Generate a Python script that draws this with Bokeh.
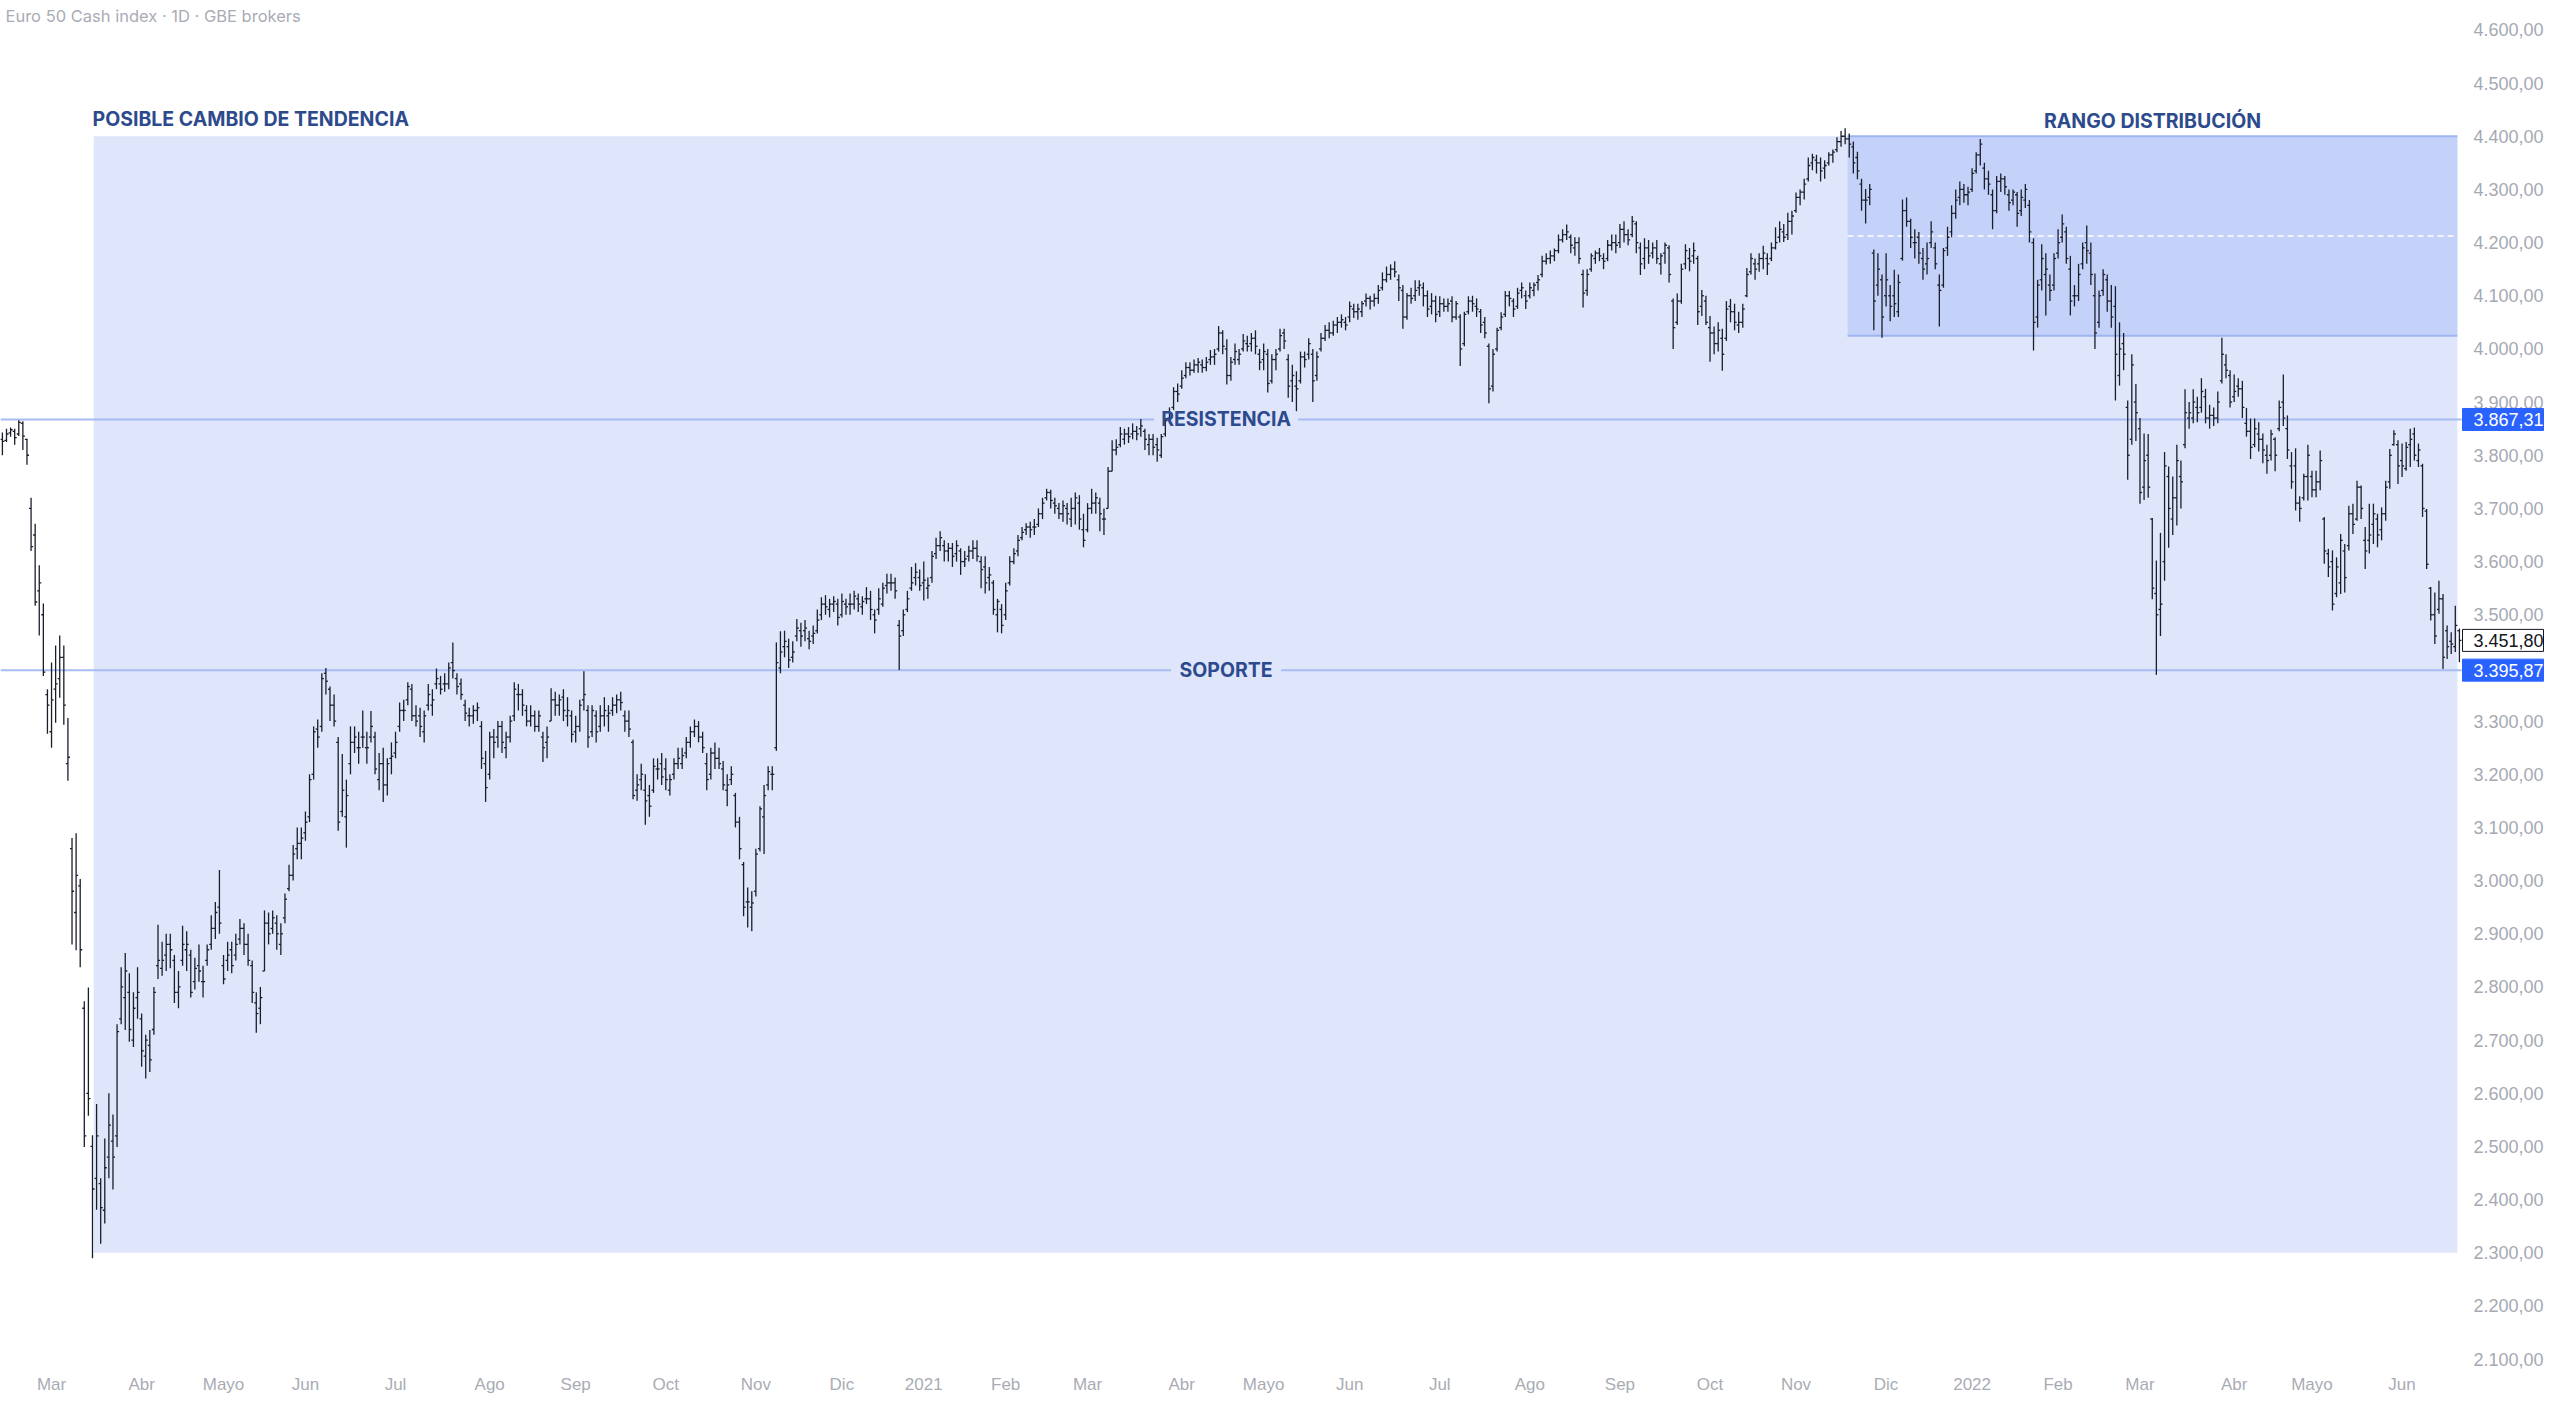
import numpy as np
import pandas as pd
from bokeh.plotting import figure
from bokeh.models import Range1d, FixedTicker, Label, BoxAnnotation
from bokeh.core.properties import value
from bokeh.embed import file_html
from bokeh.resources import INLINE

# ---------------- data (daily OHLC, Feb 13 2020 .. Jun 21 2022) ----------------
opens = [
    3830,3828,3842,3845,3840,3860,3830,3700,3650,3545,3500,3350,
    3280,3360,3380,3420,3220,3060,2940,2990,2760,2600,2500,2440,2430,2380,2480,2510,2520,2740,2780,2790,2700,2780,
    2740,2670,2690,2720,2840,2835,2860,2880,2850,2790,2850,2870,2860,2810,2840,2810,2850,2880,2910,2950,
    2840,2850,2870,2860,2890,2910,2880,2840,2770,2760,2830,2920,2910,2920,2880,2930,2985,3010,3060,3070,
    3090,3120,3200,3285,3290,3390,3360,3330,3260,3130,3120,3220,3260,3250,3270,3250,3270,3270,3190,3220,3180,3230,
    3240,3290,3320,3340,3360,3310,3310,3280,3330,3330,3370,3370,3370,3370,3410,3380,3370,3330,3310,3310,3320,3290,3220,
    3200,3270,3270,3290,3250,3270,3310,3350,3350,3320,3300,3310,3290,3270,3260,3300,3340,3330,3345,3310,3310,
    3280,3290,3340,3320,3280,3310,3290,3310,3310,3320,3330,3340,3310,3300,3260,3170,3190,3170,3160,3170,3210,3220,
    3210,3170,3200,3220,3220,3240,3260,3280,3290,3270,3220,3200,3240,3230,3210,3170,3190,3160,3110,3030,2960,2950,
    2980,3060,3120,3180,3200,3250,3400,3440,3440,3420,3460,3470,3470,3455,3460,3470,3500,3520,3510,3520,3520,
    3500,3520,3520,3520,3530,3515,3530,3530,3500,3510,3520,3555,3560,3560,3480,3470,3510,3550,3570,3570,
    3560,3550,3570,3615,3630,3630,3620,3625,3615,3620,3600,3610,3620,3625,3600,3590,3570,3560,3500,3510,
    3500,3560,3600,3620,3645,3660,3665,3665,3670,3690,3720,3730,3710,3700,3690,3700,3680,3700,3710,3660,
    3660,3700,3710,3710,3680,3700,3770,3810,3820,3830,3840,3840,3845,3850,3845,3820,3830,3820,3800,3840,3870,3890,3920,
    3930,3950,3965,3960,3970,3970,3965,3980,3985,4000,4030,4000,3950,3980,3980,4000,4010,4010,4020,3990,
    3980,3990,3940,3980,4000,4030,3980,3940,3930,3940,3985,3990,3990,3950,4000,4020,4035,4030,4045,4050,4050,
    4060,4075,4070,4070,4090,4095,4090,4095,4115,4130,4140,4150,4130,4110,4060,4100,4100,4115,4115,4100,4080,4090,
    4070,4085,4080,4090,4060,4060,4010,4070,4090,4080,4070,4050,4005,3930,4000,4040,4065,4100,4090,4080,4110,4100,
    4100,4110,4125,4140,4165,4170,4175,4185,4205,4215,4210,4190,4200,4140,4110,4150,4170,4180,4170,4170,4195,4200,
    4200,4225,4215,4215,4235,4190,4170,4190,4180,4190,4160,4180,4190,4090,4050,4090,4160,4170,4175,4170,4080,4090,
    4040,4030,4010,4020,4020,4080,4070,4045,4050,4100,4145,4160,4160,4170,4170,4170,4190,4210,4220,4215,4240,
    4260,4285,4295,4320,4350,4355,4350,4340,4350,4365,4375,4390,4400,4395,4380,4360,4310,4280,4285,4180,4120,4130,
    4100,4100,4100,4070,4170,4260,4240,4200,4210,4170,4160,4200,4190,4120,4120,4190,4220,4255,4285,4300,4290,
    4300,4335,4365,4340,4320,4290,4260,4315,4320,4290,4280,4290,4260,4280,4270,4200,4060,4130,4140,4120,4120,
    4180,4210,4220,4150,4100,4100,4160,4200,4180,4100,4050,4110,4130,4090,4080,3950,4010,3890,3830,3900,
    3850,3740,3800,3680,3540,3510,3600,3760,3680,3720,3760,3820,3870,3870,3890,3890,3910,3870,3875,3870,3940,3970,3950,
    3910,3930,3925,3860,3845,3820,3840,3830,3800,3800,3830,3850,3900,3850,3780,3780,3710,3720,3760,
    3760,3735,3750,3680,3615,3600,3540,3560,3620,3630,3690,3680,3740,3640,3640,3670,3680,3660,3690,3750,3820,3820,
    3790,3775,3820,3840,3790,3780,3695,3550,3500,3510,3530,3470,3450,3440,3470,
]
highs = [
    3843,3850,3852,3850,3866,3864,3831,3720,3671,3593,3521,3360,
    3410,3442,3461,3442,3306,3080,3089,3003,2773,2799,2521,2580,2440,2515,2600,2560,2730,2837,2864,2826,2790,2837,
    2750,2710,2719,2800,2917,2885,2900,2900,2860,2830,2915,2905,2870,2855,2880,2840,2880,2935,2960,3020,
    2860,2885,2885,2900,2928,2920,2900,2850,2790,2800,2944,2940,2944,2935,2920,2976,3030,3067,3100,3100,
    3130,3200,3290,3303,3390,3400,3365,3350,3270,3238,3190,3290,3290,3280,3320,3280,3319,3280,3240,3250,3230,3260,
    3280,3335,3340,3373,3370,3330,3325,3320,3370,3360,3399,3385,3390,3410,3448,3390,3380,3340,3325,3330,3335,3300,3244,
    3280,3285,3300,3300,3280,3310,3373,3370,3360,3330,3330,3320,3320,3280,3290,3362,3355,3350,3360,3345,3320,
    3310,3340,3394,3330,3330,3320,3330,3345,3330,3345,3350,3355,3320,3320,3265,3200,3220,3200,3180,3230,3230,3240,
    3230,3200,3230,3250,3250,3270,3290,3303,3300,3280,3240,3250,3260,3250,3225,3200,3215,3165,3120,3035,2987,2980,
    3060,3140,3180,3215,3215,3448,3469,3470,3455,3450,3492,3485,3490,3470,3480,3510,3533,3537,3530,3535,3530,
    3540,3530,3540,3545,3540,3535,3552,3545,3510,3550,3560,3577,3577,3570,3490,3510,3545,3590,3597,3585,
    3600,3570,3620,3645,3657,3640,3635,3635,3640,3625,3620,3630,3640,3640,3610,3610,3590,3565,3530,3520,
    3560,3610,3625,3650,3665,3672,3675,3680,3700,3720,3737,3735,3720,3710,3715,3710,3720,3730,3725,3690,
    3710,3737,3730,3720,3700,3778,3828,3830,3853,3850,3853,3860,3855,3868,3850,3840,3840,3833,3840,3870,3890,3928,3935,
    3960,3975,3975,3980,3983,3980,3985,3998,4000,4043,4035,4018,3985,4010,4000,4028,4025,4030,4035,4000,
    4010,4000,3990,4000,4038,4038,3990,3970,3958,3995,3995,4020,4000,3995,4030,4045,4050,4053,4060,4065,4060,
    4089,4085,4085,4090,4104,4100,4104,4120,4144,4155,4159,4165,4140,4120,4105,4115,4129,4129,4125,4110,4105,4100,
    4099,4095,4095,4099,4090,4065,4070,4099,4100,4095,4075,4060,4010,4000,4040,4069,4109,4109,4095,4115,4125,4110,
    4125,4125,4139,4175,4180,4185,4189,4215,4225,4234,4215,4210,4210,4149,4150,4180,4185,4190,4180,4205,4215,4215,
    4235,4240,4225,4250,4240,4200,4208,4205,4200,4205,4180,4200,4195,4095,4104,4160,4197,4190,4200,4175,4111,4100,
    4062,4042,4050,4038,4090,4094,4085,4070,4085,4152,4180,4170,4180,4194,4180,4200,4229,4240,4235,4256,4260,
    4294,4300,4320,4360,4367,4365,4360,4355,4370,4375,4398,4410,4415,4405,4390,4371,4320,4301,4310,4187,4180,4140,
    4180,4120,4149,4140,4281,4285,4245,4225,4220,4190,4200,4240,4200,4140,4190,4230,4270,4300,4315,4310,4305,
    4340,4370,4395,4350,4335,4300,4325,4330,4325,4300,4300,4295,4300,4310,4280,4208,4130,4197,4180,4140,4180,
    4225,4253,4230,4175,4120,4160,4200,4232,4200,4142,4110,4150,4140,4120,4118,4050,4030,3903,3990,3934,
    3870,3841,3840,3682,3602,3654,3806,3779,3760,3820,3790,3924,3900,3924,3910,3945,3925,3895,3890,3920,4021,3990,3960,
    3952,3945,3940,3889,3869,3869,3862,3841,3820,3848,3834,3903,3952,3875,3806,3813,3723,3765,3820,
    3771,3771,3809,3684,3624,3621,3608,3652,3633,3705,3709,3752,3743,3665,3709,3709,3690,3702,3752,3812,3847,3828,
    3822,3825,3850,3852,3822,3784,3699,3552,3542,3564,3539,3480,3467,3517,3474,
]
lows = [
    3800,3825,3835,3820,3836,3810,3782,3620,3517,3461,3385,3276,
    3250,3297,3344,3293,3188,2880,2869,2837,2499,2558,2290,2381,2317,2355,2440,2419,2499,2730,2719,2697,2687,2740,
    2650,2628,2640,2710,2815,2821,2830,2835,2770,2760,2840,2830,2780,2795,2810,2780,2840,2870,2890,2900,
    2805,2830,2826,2850,2880,2860,2840,2770,2714,2730,2830,2880,2900,2870,2860,2920,2980,3000,3040,3040,
    3075,3110,3190,3250,3280,3350,3300,3290,3094,3120,3062,3200,3240,3220,3250,3220,3260,3200,3170,3148,3160,3200,
    3230,3280,3300,3330,3300,3290,3270,3260,3320,3310,3360,3350,3355,3360,3380,3350,3340,3300,3290,3295,3300,3210,3148,
    3190,3230,3250,3240,3230,3260,3300,3320,3310,3290,3290,3280,3280,3223,3230,3300,3310,3310,3300,3290,3260,
    3260,3280,3320,3250,3270,3260,3280,3290,3280,3310,3315,3320,3280,3270,3153,3150,3170,3105,3120,3165,3190,3180,
    3170,3160,3190,3210,3210,3230,3250,3270,3260,3240,3170,3190,3210,3210,3170,3140,3180,3100,3040,2933,2912,2905,
    2970,3055,3050,3170,3170,3244,3390,3420,3400,3410,3450,3440,3450,3435,3445,3465,3490,3500,3495,3505,3480,
    3495,3500,3500,3510,3505,3500,3520,3490,3465,3500,3515,3540,3545,3530,3396,3460,3505,3545,3555,3545,
    3527,3530,3560,3605,3620,3600,3600,3590,3600,3575,3590,3600,3605,3600,3550,3540,3545,3500,3467,3465,
    3490,3555,3595,3610,3640,3650,3645,3650,3665,3680,3715,3700,3690,3680,3675,3670,3665,3670,3660,3627,
    3655,3690,3690,3657,3650,3700,3770,3800,3815,3820,3823,3830,3828,3835,3810,3800,3800,3788,3795,3835,3860,3885,3900,
    3925,3945,3950,3955,3955,3955,3958,3970,3970,3995,3990,3933,3940,3970,3970,3995,3995,3995,3990,3960,
    3960,3918,3935,3960,3995,4000,3908,3900,3883,3935,3965,3980,3900,3940,3995,4015,4020,4025,4030,4040,4035,
    4050,4058,4055,4060,4080,4074,4080,4085,4110,4125,4130,4135,4090,4038,4055,4085,4090,4100,4080,4060,4065,4050,
    4060,4070,4070,4050,4055,3968,4005,4065,4070,4060,4030,4020,3898,3920,3995,4035,4060,4080,4060,4075,4095,4075,
    4095,4099,4110,4135,4159,4160,4165,4180,4200,4205,4180,4175,4160,4078,4100,4145,4160,4165,4150,4165,4185,4180,
    4190,4200,4195,4210,4180,4139,4150,4160,4170,4160,4140,4160,4125,4000,4045,4085,4150,4146,4160,4045,4062,4045,
    3976,3990,3995,3959,4015,4050,4035,4030,4040,4097,4140,4130,4145,4150,4139,4165,4187,4200,4201,4205,4215,
    4256,4270,4281,4315,4336,4330,4315,4320,4345,4350,4370,4380,4385,4360,4330,4319,4260,4236,4270,4035,4100,4021,
    4080,4052,4060,4060,4166,4230,4190,4170,4160,4130,4140,4190,4150,4042,4115,4175,4210,4245,4270,4275,4270,
    4295,4330,4345,4300,4290,4225,4255,4295,4290,4260,4270,4230,4250,4265,4200,3997,4040,4110,4063,4090,4110,
    4170,4200,4160,4063,4080,4090,4150,4160,4120,4000,4040,4100,4070,4040,3903,3931,3960,3754,3820,3827,
    3709,3716,3720,3529,3387,3460,3564,3626,3650,3668,3700,3813,3850,3860,3862,3880,3860,3850,3855,3860,3935,3945,3890,
    3900,3910,3870,3835,3793,3815,3807,3785,3765,3790,3770,3845,3855,3793,3737,3696,3675,3715,3715,
    3721,3721,3734,3596,3571,3508,3533,3539,3542,3621,3652,3677,3680,3586,3615,3633,3627,3640,3677,3737,3818,3746,
    3759,3771,3778,3790,3778,3684,3586,3489,3445,3502,3398,3417,3426,3430,3411,
]
closes = [
    3826,3840,3848,3833,3862,3836,3800,3628,3524,3560,3392,3330,
    3340,3370,3420,3330,3232,2980,3010,2870,2520,2590,2420,2520,2385,2460,2540,2480,2716,2800,2830,2720,2760,2790,
    2680,2700,2663,2790,2850,2850,2880,2870,2790,2800,2880,2880,2790,2835,2830,2810,2870,2910,2940,2920,
    2815,2860,2840,2880,2910,2880,2850,2790,2750,2780,2920,2900,2930,2900,2900,2965,3010,3050,3070,3080,
    3110,3190,3280,3270,3380,3375,3330,3300,3110,3170,3160,3260,3270,3250,3270,3250,3290,3210,3220,3180,3220,3234,
    3260,3320,3320,3365,3310,3300,3290,3310,3350,3340,3380,3360,3370,3400,3395,3365,3350,3315,3310,3320,3325,3230,3175,
    3270,3260,3290,3260,3270,3300,3360,3350,3330,3300,3310,3290,3310,3250,3270,3340,3330,3340,3320,3320,3275,
    3290,3330,3350,3270,3320,3280,3310,3320,3315,3330,3340,3335,3300,3285,3160,3180,3200,3150,3140,3215,3210,3195,
    3190,3190,3220,3230,3235,3260,3280,3290,3270,3250,3190,3240,3230,3220,3180,3180,3200,3110,3060,2950,2960,2958,
    3050,3135,3160,3205,3200,3410,3430,3450,3415,3430,3475,3460,3475,3450,3465,3490,3520,3515,3520,3525,3495,
    3525,3515,3520,3535,3520,3525,3530,3510,3490,3530,3550,3560,3560,3545,3460,3500,3530,3560,3580,3555,
    3565,3555,3610,3630,3645,3620,3625,3610,3630,3600,3605,3620,3625,3610,3585,3560,3575,3510,3525,3480,
    3545,3600,3615,3640,3655,3665,3660,3665,3690,3710,3730,3715,3705,3690,3705,3690,3700,3720,3680,3640,
    3700,3710,3720,3690,3680,3770,3810,3815,3840,3840,3835,3845,3840,3855,3830,3830,3815,3810,3835,3865,3880,3920,3915,
    3945,3965,3960,3970,3975,3965,3975,3985,3990,4030,4005,3950,3975,3995,3990,4015,4005,4020,4005,3975,
    3995,3935,3980,3990,4025,4015,3930,3950,3925,3985,3980,4010,3940,3985,4020,4035,4030,4045,4050,4055,4045,
    4080,4070,4075,4085,4095,4090,4095,4110,4130,4140,4150,4145,4115,4060,4100,4095,4110,4120,4100,4075,4090,4065,
    4085,4080,4085,4060,4085,4000,4065,4090,4085,4075,4045,4030,3925,3990,4035,4060,4100,4095,4075,4105,4115,4090,
    4115,4120,4130,4165,4170,4175,4185,4205,4215,4220,4195,4200,4170,4105,4140,4175,4180,4175,4165,4195,4200,4195,
    4225,4215,4205,4240,4200,4160,4190,4175,4190,4170,4175,4195,4140,4040,4090,4150,4185,4165,4185,4070,4100,4050,
    4030,4010,4035,3990,4075,4070,4050,4050,4075,4140,4170,4150,4170,4180,4160,4190,4200,4225,4210,4240,4250,
    4285,4295,4310,4345,4360,4350,4335,4345,4365,4370,4390,4400,4395,4385,4350,4335,4280,4280,4300,4090,4150,4060,
    4130,4080,4085,4125,4260,4240,4210,4200,4180,4150,4170,4220,4160,4110,4185,4210,4255,4280,4300,4290,4295,
    4330,4365,4385,4320,4310,4260,4315,4320,4305,4275,4295,4255,4285,4300,4220,4050,4120,4170,4150,4110,4170,
    4200,4235,4170,4090,4100,4140,4190,4185,4140,4030,4100,4140,4090,4060,3990,4000,3990,3800,3970,3880,
    3730,3790,3740,3550,3500,3520,3780,3700,3720,3790,3750,3880,3880,3900,3880,3920,3870,3875,3870,3900,3990,3960,3900,
    3920,3925,3890,3845,3815,3850,3830,3810,3790,3840,3800,3890,3870,3810,3750,3710,3700,3760,3800,
    3735,3750,3790,3620,3590,3520,3590,3640,3570,3690,3670,3740,3700,3620,3650,3690,3650,3690,3740,3800,3840,3780,
    3780,3815,3830,3800,3810,3700,3595,3500,3460,3530,3420,3440,3445,3480,3451.80,
]

start_date = "2020-02-13"
end_date = "2022-06-21"
holidays = ["2020-04-10", "2020-04-13", "2020-05-01", "2020-12-24", "2020-12-25", "2020-12-31",
            "2021-01-01", "2021-04-02", "2021-04-05", "2021-12-24", "2021-12-31",
            "2022-04-15", "2022-04-18"]
month_names = ["", "Feb", "Mar", "Abr", "Mayo", "Jun", "Jul", "Ago", "Sep", "Oct", "Nov", "Dic"]

resistance = 3867.31
support = 3395.87
last_price = 3451.80
range_top = 4400.0
range_bottom = 4025.0
zone_bottom = 2300.0
zone_start = "2020-03-16"
range_start = "2021-11-17"
price_ticks = list(range(2100, 4700, 100))

title_text = "Euro 50 Cash index \u00b7 1D \u00b7 GBE brokers"
zone_text = "POSIBLE CAMBIO DE TENDENCIA"
range_text = "RANGO DISTRIBUCI\u00d3N"
res_text = "RESISTENCIA"
sup_text = "SOPORTE"

# ---------------- layout ----------------
FW, FH = 2544, 1370
PX_BAR = 4.095          # pixels per bar
PX_PRICE = 0.5317       # pixels per price unit
x0 = -1.9 / PX_BAR
x1 = x0 + FW / PX_BAR
y1 = 4600 + 29.4 / PX_PRICE
y0 = y1 - FH / PX_PRICE
sx = PX_BAR
sy = PX_PRICE
plot_right = x0 + 2461 / sx     # end of the chart pane, price scale to its right
scale_x = plot_right + 12 / sx

dates = pd.bdate_range(start_date, end_date)
dates = dates[~dates.isin(pd.to_datetime(holidays))]
n = min(len(opens), len(highs), len(lows), len(closes), len(dates))
x = np.arange(n)
o = np.array(opens[:n], float)
h = np.array(highs[:n], float)
l = np.array(lows[:n], float)
c = np.array(closes[:n], float)
dates = dates[:n]

def idx_of(d):
    return int(np.searchsorted(dates, pd.Timestamp(d)))

def fmt(v):
    s = f"{v:,.2f}"
    return s.replace(",", "X").replace(".", ",").replace("X", ".")

p = figure(frame_width=FW, frame_height=FH,
           x_range=Range1d(x0, x1), y_range=Range1d(y0, y1),
           y_axis_location=None, output_backend="svg", toolbar_location=None,
           min_border_left=0, min_border_top=0, min_border_bottom=0, min_border_right=0,
           background_fill_color="white", border_fill_color="white")
p.outline_line_color = None
p.xgrid.visible = False
p.ygrid.visible = False

# zones
zone_left = idx_of(zone_start) + 0.3
zone_right = (n - 1) - 0.5
rng_left = idx_of(range_start) + 0.6
p.add_layout(BoxAnnotation(left=zone_left, right=zone_right, bottom=zone_bottom, top=range_top,
                           fill_color="#dfe6fc", fill_alpha=1.0, line_alpha=0, level="underlay"))
p.add_layout(BoxAnnotation(left=rng_left, right=zone_right, bottom=range_bottom, top=range_top,
                           fill_color="#c4d2fa", fill_alpha=1.0, line_alpha=0, level="underlay"))
p.segment(x0=[rng_left, rng_left], y0=[range_top, range_bottom], x1=[zone_right, zone_right],
          y1=[range_top, range_bottom], line_color="#9db4f1", line_width=2)
mid = (range_top + range_bottom) / 2
p.segment(x0=[rng_left], y0=[mid], x1=[zone_right], y1=[mid], line_color="white",
          line_width=1.5, line_dash="6 4")

# horizontal levels with gap around their text
label_x = x0 + 0.498 * (plot_right - x0)
res_gap = 72 / sx
sup_gap = 55 / sx
p.segment(x0=[x0, label_x + res_gap, x0, label_x + sup_gap],
          y0=[resistance, resistance, support, support],
          x1=[label_x - res_gap, plot_right, label_x - sup_gap, plot_right],
          y1=[resistance, resistance, support, support],
          line_color="#a7bcf3", line_width=2)

# OHLC bars
bar_col = "#1a1e29"
tk = 0.5
p.segment(x0=x, y0=l, x1=x, y1=h, line_color=bar_col, line_width=1.3)
p.segment(x0=x - tk, y0=o, x1=x, y1=o, line_color=bar_col, line_width=1.3)
p.segment(x0=x, y0=c, x1=x + tk, y1=c, line_color=bar_col, line_width=1.3)

# price scale on the right of the pane
p.text(x=[scale_x] * len(price_ticks), y=price_ticks, text=[fmt(t) for t in price_ticks],
       text_align="left", text_baseline="middle", text_font=value("Liberation Sans"),
       text_font_size="18px", text_color="#a6a9b2")

badge_l = plot_right + 1 / sx
badge_r = x0 + 2543 / sx
half = 11 / sy
for val, bg, fg, bd in [(resistance, "#2962ff", "white", "#2962ff"),
                        (support, "#2962ff", "white", "#2962ff"),
                        (last_price, "white", "#131722", "#131722")]:
    p.quad(left=[badge_l], right=[badge_r], bottom=[val - half], top=[val + half],
           fill_color=bg, line_color=bd, line_width=1)
    p.text(x=[scale_x], y=[val], text=[fmt(val)], text_align="left", text_baseline="middle",
           text_font=value("Liberation Sans"), text_font_size="18px", text_color=fg)

# texts
txt_col = "#2d4b8c"
FONT = "Inter"
p.add_layout(Label(x=zone_left - 0.3, y=range_top + 17 / sy, text=zone_text, text_align="left",
                   text_baseline="middle", text_font=FONT, text_font_style="bold",
                   text_font_size="19.5px", text_color=txt_col))
p.add_layout(Label(x=(rng_left + zone_right) / 2, y=range_top + 15 / sy, text=range_text,
                   text_align="center", text_baseline="middle", text_font=FONT,
                   text_font_style="bold", text_font_size="19.5px", text_color=txt_col))
p.add_layout(Label(x=label_x, y=resistance, text=res_text, text_align="center",
                   text_baseline="middle", text_font=FONT, text_font_style="bold",
                   text_font_size="19.5px", text_color=txt_col))
p.add_layout(Label(x=label_x, y=support, text=sup_text, text_align="center",
                   text_baseline="middle", text_font=FONT, text_font_style="bold",
                   text_font_size="19.5px", text_color=txt_col))
p.add_layout(Label(x=x0 + 5 / sx, y=y1 - 15 / sy, text=title_text, text_align="left",
                   text_baseline="middle", text_font=FONT, text_font_size="16.5px",
                   text_color="#a9acb5"))

# x axis (month starts)
mticks, mlabels = [], {}
for i in range(1, n):
    if dates[i].month != dates[i - 1].month:
        mticks.append(i)
        if dates[i].month == 1:
            mlabels[i] = str(dates[i].year)
        else:
            mlabels[i] = month_names[dates[i].month - 1]
p.xaxis.ticker = FixedTicker(ticks=mticks)
p.xaxis.major_label_overrides = mlabels
p.xaxis.axis_line_color = None
p.xaxis.major_tick_line_color = None
p.xaxis.minor_tick_line_color = None
p.xaxis.major_tick_out = 0
p.xaxis.major_tick_in = 0
p.xaxis.major_label_standoff = 4
p.xaxis.major_label_text_font = "Liberation Sans"
p.xaxis.major_label_text_font_size = "17px"
p.xaxis.major_label_text_color = "#a9acb4"

if not (len(opens) == len(highs) == len(lows) == len(closes) == len(dates)):
    p.add_layout(Label(x=100, y=3000, text=f"LEN {len(opens)} {len(highs)} {len(lows)} {len(closes)} {len(dates)}",
                       text_font_size="40px", text_color="red"))

open("out.html", "w").write(file_html(p, INLINE))
